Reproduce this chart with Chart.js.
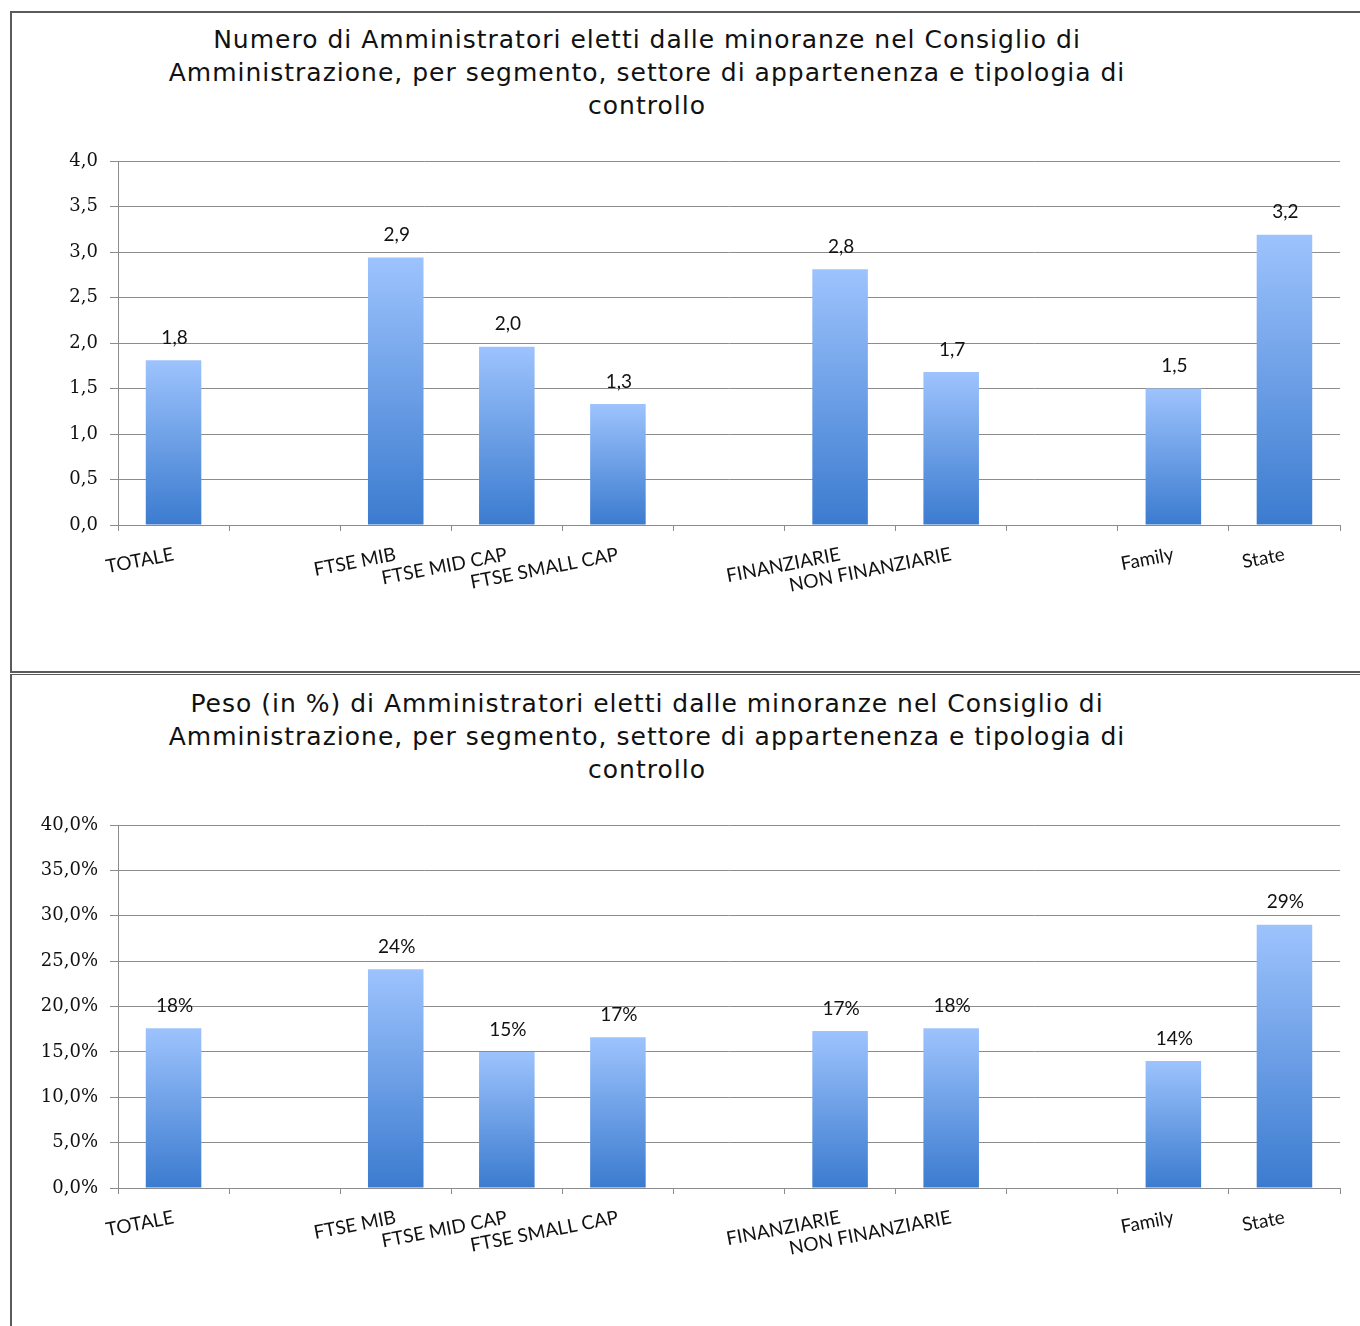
<!DOCTYPE html>
<html>
<head>
<meta charset="utf-8">
<script src="https://cdn.jsdelivr.net/npm/chart.js@4.4.1/dist/chart.umd.min.js"></script>
<style>
  body { margin: 0; background: #fff; width: 1360px; height: 1326px; overflow: hidden; position: relative; }
  .panel { position: absolute; left: 10px; width: 1360px; border: 2px solid #5b5b5b; border-right: none; box-sizing: border-box; }
  #p1 { top: 11px; height: 662px; }
  #p2 { top: 674px; height: 700px; border-top-width: 1px; }
  .title { position: absolute; left: 97px; width: 1100px; font-family: "DejaVu Sans", sans-serif; font-size: 25px;
           letter-spacing: 1px; line-height: 33px; color: #111; text-align: center; white-space: nowrap; }
  .wrap { position: absolute; left: 12px; width: 1348px; }
</style>
</head>
<body>
<div class="panel" id="p1"></div>
<div class="panel" id="p2"></div>

<div class="title" style="top:23px">Numero di Amministratori eletti dalle minoranze nel Consiglio di<br>Amministrazione, per segmento, settore di appartenenza e tipologia di<br>controllo</div>
<div class="title" style="top:687px">Peso (in %) di Amministratori eletti dalle minoranze nel Consiglio di<br>Amministrazione, per segmento, settore di appartenenza e tipologia di<br>controllo</div>

<div class="wrap" style="top:13px; height:658px"><canvas id="chartNumero"></canvas></div>
<div class="wrap" style="top:675px; height:651px"><canvas id="chartPeso"></canvas></div>

<script>
// categorie (gli spazi vuoti separano i gruppi)
const categories = ['TOTALE', '', 'FTSE MIB', 'FTSE MID CAP', 'FTSE SMALL CAP', '', 'FINANZIARIE', 'NON FINANZIARIE', '', 'Family', 'State'];

// numero medio di amministratori eletti dalle minoranze
const numeroValues = [1.81, null, 2.94, 1.96, 1.33, null, 2.81, 1.68, null, 1.5, 3.19];

// peso in %
const pesoValues = [17.6, null, 24.1, 15.0, 16.6, null, 17.3, 17.6, null, 14.0, 29.0];

const numeroAxis = { max: 4, step: 0.5 };
const pesoAxis = { max: 40, step: 5 };

const gridColor = '#8c8c8c';
const textColor = '#111';

const comma = (v, d) => v.toFixed(d).replace('.', ',');

// gradiente verticale su ogni barra
function barFill(ctx) {
    const chart = ctx.chart;
    if (!chart.chartArea || ctx.type !== 'data' || ctx.raw == null) return '#6a9de0';
    const y = chart.scales.y;
    const top = y.getPixelForValue(ctx.raw);
    const bottom = y.getPixelForValue(0);
    const g = chart.ctx.createLinearGradient(0, top, 0, bottom);
    g.addColorStop(0, '#9dc3fd');
    g.addColorStop(1, '#3b7bcf');
    return g;
}

// etichette sopra le barre
const barLabels = {
    id: 'barLabels',
    afterDatasetsDraw(chart, args, opts) {
        const c = chart.ctx;
        const values = chart.data.datasets[0].data;
        c.save();
        c.font = '19px Lato';
        c.fillStyle = textColor;
        c.textAlign = 'center';
        c.textBaseline = 'bottom';
        chart.getDatasetMeta(0).data.forEach((bar, i) => {
            if (values[i] == null) return;
            c.fillText(opts.format(values[i]), bar.x + 1, bar.y - 13);
        });
        c.restore();
    }
};

function makeChart(id, values, axis, tickFmt, labelFmt, padTop, xHeight) {
    return new Chart(document.getElementById(id), {
        type: 'bar',
        data: {
            labels: categories,
            datasets: [{
                data: values,
                backgroundColor: barFill,
                borderWidth: 0,
                barPercentage: 0.5,
                categoryPercentage: 1.0
            }]
        },
        options: {
            responsive: true,
            maintainAspectRatio: false,
            animation: false,
            layout: { padding: { top: padTop, right: 20, left: 0, bottom: 0 } },
            plugins: {
                legend: { display: false },
                tooltip: { enabled: false },
                barLabels: { format: labelFmt }
            },
            scales: {
                x: {
                    afterFit: (s) => { s.height = xHeight; },
                    grid: { display: true, drawOnChartArea: false, color: gridColor, tickLength: 6, offset: true },
                    border: { color: gridColor },
                    ticks: {
                        autoSkip: false, minRotation: 11, maxRotation: 11, padding: 12,
                        color: textColor, font: { family: 'Lato', size: 19 }
                    }
                },
                y: {
                    min: 0,
                    max: axis.max,
                    afterFit: (s) => { s.width = 106; },
                    grid: { color: gridColor, tickLength: 8 },
                    border: { color: gridColor },
                    ticks: {
                        stepSize: axis.step, padding: 12, color: textColor,
                        font: { family: 'DejaVu Serif', size: 18 },
                        callback: tickFmt
                    }
                }
            }
        },
        plugins: [barLabels]
    });
}

makeChart('chartNumero', numeroValues, numeroAxis,
    v => comma(v, 1),
    v => comma(v, 1),
    148, 146);

makeChart('chartPeso', pesoValues, pesoAxis,
    v => comma(v, 1) + '%',
    v => Math.round(v) + '%',
    150, 138);
</script>
</body>
</html>
